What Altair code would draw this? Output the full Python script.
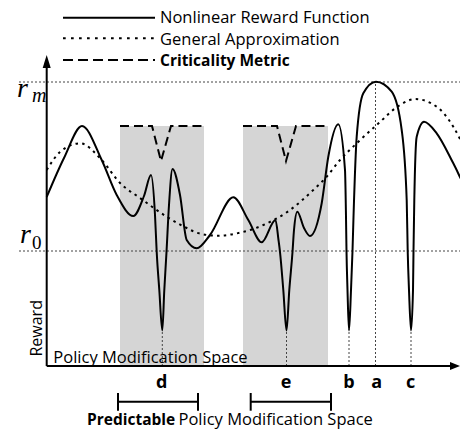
import altair as alt
import pandas as pd

# ---------------- data (policy position x, reward r) ----------------
solid_x = [46.7, 64, 82, 101.7, 116.7, 133.3, 144, 151, 155, 156.7, 159.3, 162.3, 164.3, 166.5, 169, 172.5,
           180, 186.7, 196.7, 210, 233.3, 248.3, 261.7, 275.5, 278.5, 280, 283.3, 286.5, 289.3, 292.5, 294,
           297.3, 304, 310, 321.7, 328.3, 338.3, 345, 346, 346.5, 347.5, 349, 351, 352.5, 353.5, 356.7, 363.3,
           376, 391.7, 401.7, 406.7, 407.7, 409, 411, 413, 413.5, 414.3, 416.7, 424, 436.7, 453.3, 466.7, 472]
solid_r = [169, 208, 240, 206, 171, 150, 170, 191, 151, 114, 76, 35.5, 76, 114, 161, 197,
           171, 126, 117.7, 131, 168.7, 146, 123.7, 146, 126, 114, 76, 35.5, 76, 114, 136,
           154.3, 138, 130, 162.7, 209.3, 241.7, 196, 149, 115, 76, 35.5, 76, 115, 149, 229.3, 272.7,
           284.3, 274.3, 236, 166, 115, 76, 35.5, 76, 115, 166, 229.3, 244.3, 232.7, 202.7, 176, 168]

approx_x = [46.7, 60, 80, 101.7, 120, 140, 166.7, 186.7, 196.7, 216.7, 240, 263.3, 290, 313.3, 326.7,
            340, 356.7, 376.7, 400, 415, 436.7, 453.3, 466.7, 472]
approx_r = [196, 214, 222.7, 206, 183, 168, 149.3, 138, 133.3, 130.3, 133.3, 141, 156, 176, 189.3,
            206, 222.7, 241, 261, 267, 259.3, 239.3, 212.7, 200]

crit_x = [120, 152, 161, 171, 204, 243, 277, 286, 296, 328]
crit_r = [240, 240, 205, 240, 240, 240, 240, 205, 240, 240]
crit_seg = ["d", "d", "d", "d", "d", "e", "e", "e", "e", "e"]

shade_x1 = [120, 243]
shade_x2 = [204, 328]
shade_top = 240

r_m = 284
r_0 = 115
guide_x_start = 19
x_end = 470
axis_x = 46.7
y_axis_top = 300
y_arrow_tip = 311
x_axis_end = 452
x_arrow_tip = 460

dip_x = [162.3, 286.5, 349, 411]
dip_r = 35.5
peak_a_x = 375.5

point_labels = ["d", "e", "b", "a", "c"]
point_label_x = [161.7, 286, 349, 376.7, 410.7]

bracket_x1 = [118, 250.7]
bracket_x2 = [198, 331]

legend_names = ["Nonlinear Reward Function", "General Approximation", "Criticality Metric"]
legend_line_y = [348.3, 327.7, 306]
legend_text_y = [343.5, 321.5, 300.5]

# ---------------- scales ----------------
XS = alt.Scale(domain=[8, 460], nice=False, zero=False)
YS = alt.Scale(domain=[-64, 358], nice=False, zero=False)


def X(f="x"):
    return alt.X(f + ":Q", scale=XS, axis=None)


def Y(f="y"):
    return alt.Y(f + ":Q", scale=YS, axis=None)


FONT = "Open Sans"
SERIF = "Liberation Serif"
REG = 16.5
BOLD = 15.5

# shaded areas
shade = alt.Chart(pd.DataFrame({"x": shade_x1, "x2": shade_x2, "y": [0, 0], "y2": [shade_top] * 2})).mark_rect(
    color="#d5d5d5").encode(x=X(), x2="x2:Q", y=Y(), y2="y2:Q")

# thin dotted guides
guides_df = pd.DataFrame({
    "x": [guide_x_start, guide_x_start, peak_a_x] + dip_x,
    "x2": [x_end, x_end, peak_a_x] + dip_x,
    "y": [r_m, r_0, 0] + [0] * len(dip_x),
    "y2": [r_m, r_0, r_m] + [dip_r] * len(dip_x),
})
guides = alt.Chart(guides_df).mark_rule(color="#444", strokeWidth=1, strokeDash=[2, 2], clip=True).encode(
    x=X(), x2="x2:Q", y=Y(), y2="y2:Q")

solid = alt.Chart(pd.DataFrame({"x": solid_x, "y": solid_r})).mark_line(
    interpolate="monotone", color="black", strokeWidth=2, clip=True).encode(x=X(), y=Y())

approx = alt.Chart(pd.DataFrame({"x": approx_x, "y": approx_r})).mark_line(
    interpolate="monotone", color="black", strokeWidth=2, strokeDash=[2.5, 4.2], clip=True).encode(x=X(), y=Y())

crit = alt.Chart(pd.DataFrame({"x": crit_x, "y": crit_r, "s": crit_seg})).mark_line(
    color="black", strokeWidth=2, strokeDash=[9, 5]).encode(x=X(), y=Y(), detail="s:N")

# axes
axes_df = pd.DataFrame({"x": [axis_x, axis_x], "x2": [axis_x, x_axis_end], "y": [0, 0], "y2": [y_axis_top, 0]})
axes = alt.Chart(axes_df).mark_rule(color="black", strokeWidth=2).encode(x=X(), x2="x2:Q", y=Y(), y2="y2:Q")

up_arrow = alt.Chart(pd.DataFrame({"x": [axis_x], "y": [y_arrow_tip - 6.5]})).mark_point(
    shape="M0,-1L0.62,1L-0.62,1Z", filled=True, color="black", opacity=1, size=169, strokeWidth=0).encode(x=X(), y=Y())
right_arrow = alt.Chart(pd.DataFrame({"x": [x_arrow_tip - 5], "y": [0]})).mark_point(
    shape="M1,0L-1,0.8L-1,-0.8Z", filled=True, color="black", opacity=1, size=100, strokeWidth=0).encode(x=X(), y=Y())

# legend
leg_solid = alt.Chart(pd.DataFrame({"x": [63], "x2": [155], "y": [legend_line_y[0]]})).mark_rule(
    color="black", strokeWidth=2).encode(x=X(), x2="x2:Q", y=Y())
leg_dot = alt.Chart(pd.DataFrame({"x": [63], "x2": [155], "y": [legend_line_y[1]]})).mark_rule(
    color="black", strokeWidth=2, strokeDash=[2.7, 5.3]).encode(x=X(), x2="x2:Q", y=Y())
leg_dash = alt.Chart(pd.DataFrame({"x": [63], "x2": [155], "y": [legend_line_y[2]]})).mark_rule(
    color="black", strokeWidth=2, strokeDash=[10, 5]).encode(x=X(), x2="x2:Q", y=Y())

leg_text = alt.Chart(pd.DataFrame({"x": [160, 160], "y": legend_text_y[:2], "t": legend_names[:2]})).mark_text(
    font=FONT, fontSize=REG, align="left", baseline="alphabetic", color="black").encode(x=X(), y=Y(), text="t:N")
leg_text_b = alt.Chart(pd.DataFrame({"x": [160], "y": legend_text_y[2:], "t": legend_names[2:]})).mark_text(
    font=FONT, fontSize=BOLD, fontWeight="bold", align="left", baseline="alphabetic", color="black").encode(
    x=X(), y=Y(), text="t:N")

# r labels
r_text = alt.Chart(pd.DataFrame({"x": [17, 20], "y": [268.7, 122.7], "t": ["r", "r"]})).mark_text(
    font=SERIF, fontStyle="italic", fontSize=28, align="left", baseline="alphabetic", color="black").encode(
    x=X(), y=Y(), text="t:N")
m_text = alt.Chart(pd.DataFrame({"x": [32], "y": [264.3], "t": ["m"]})).mark_text(
    font=SERIF, fontStyle="italic", fontSize=20, align="left", baseline="alphabetic", color="black").encode(
    x=X(), y=Y(), text="t:N")
zero_text = alt.Chart(pd.DataFrame({"x": [32], "y": [116.7], "t": ["0"]})).mark_text(
    font=SERIF, fontSize=19, align="left", baseline="alphabetic", color="black").encode(
    x=X(), y=Y(), text="t:N")

# axis texts
pms = alt.Chart(pd.DataFrame({"x": [53.3], "y": [3.3], "t": ["Policy Modification Space"]})).mark_text(
    font=FONT, fontSize=REG, align="left", baseline="alphabetic", color="black").encode(x=X(), y=Y(), text="t:N")
reward = alt.Chart(pd.DataFrame({"x": [41.5], "y": [37.7], "t": ["Reward"]})).mark_text(
    font=FONT, fontSize=16, align="center", baseline="alphabetic", angle=270, color="black").encode(
    x=X(), y=Y(), text="t:N")

letters = alt.Chart(pd.DataFrame({"x": point_label_x, "y": [-22] * 5, "t": point_labels})).mark_text(
    font=FONT, fontSize=18, fontWeight="bold", align="center", baseline="alphabetic", color="black").encode(
    x=X(), y=Y(), text="t:N")

# brackets
br_df = pd.DataFrame({
    "x": bracket_x1 + bracket_x1 + bracket_x2,
    "x2": bracket_x2 + bracket_x1 + bracket_x2,
    "y": [-35.7, -35.7, -27, -27, -27, -27],
    "y2": [-35.7, -35.7, -44.7, -44.7, -44.7, -44.7],
})
brackets = alt.Chart(br_df).mark_rule(color="black", strokeWidth=2).encode(x=X(), x2="x2:Q", y=Y(), y2="y2:Q")

pred_b = alt.Chart(pd.DataFrame({"x": [87], "y": [-59], "t": ["Predictable"]})).mark_text(
    font=FONT, fontSize=BOLD, fontWeight="bold", align="left", baseline="alphabetic", color="black").encode(
    x=X(), y=Y(), text="t:N")
pred_n = alt.Chart(pd.DataFrame({"x": [178.5], "y": [-59], "t": ["Policy Modification Space"]})).mark_text(
    font=FONT, fontSize=REG, align="left", baseline="alphabetic", color="black").encode(
    x=X(), y=Y(), text="t:N")

chart = alt.layer(
    shade, guides, approx, crit, solid, axes, up_arrow, right_arrow,
    leg_solid, leg_dot, leg_dash, leg_text, leg_text_b,
    r_text, m_text, zero_text, pms, reward, letters, brackets, pred_b, pred_n,
).properties(width=452, height=422, padding=0, autosize=alt.AutoSizeParams(type="none")).configure_view(
    strokeWidth=0)

chart.save("out.html", embed_options={"renderer": "svg", "actions": False})
